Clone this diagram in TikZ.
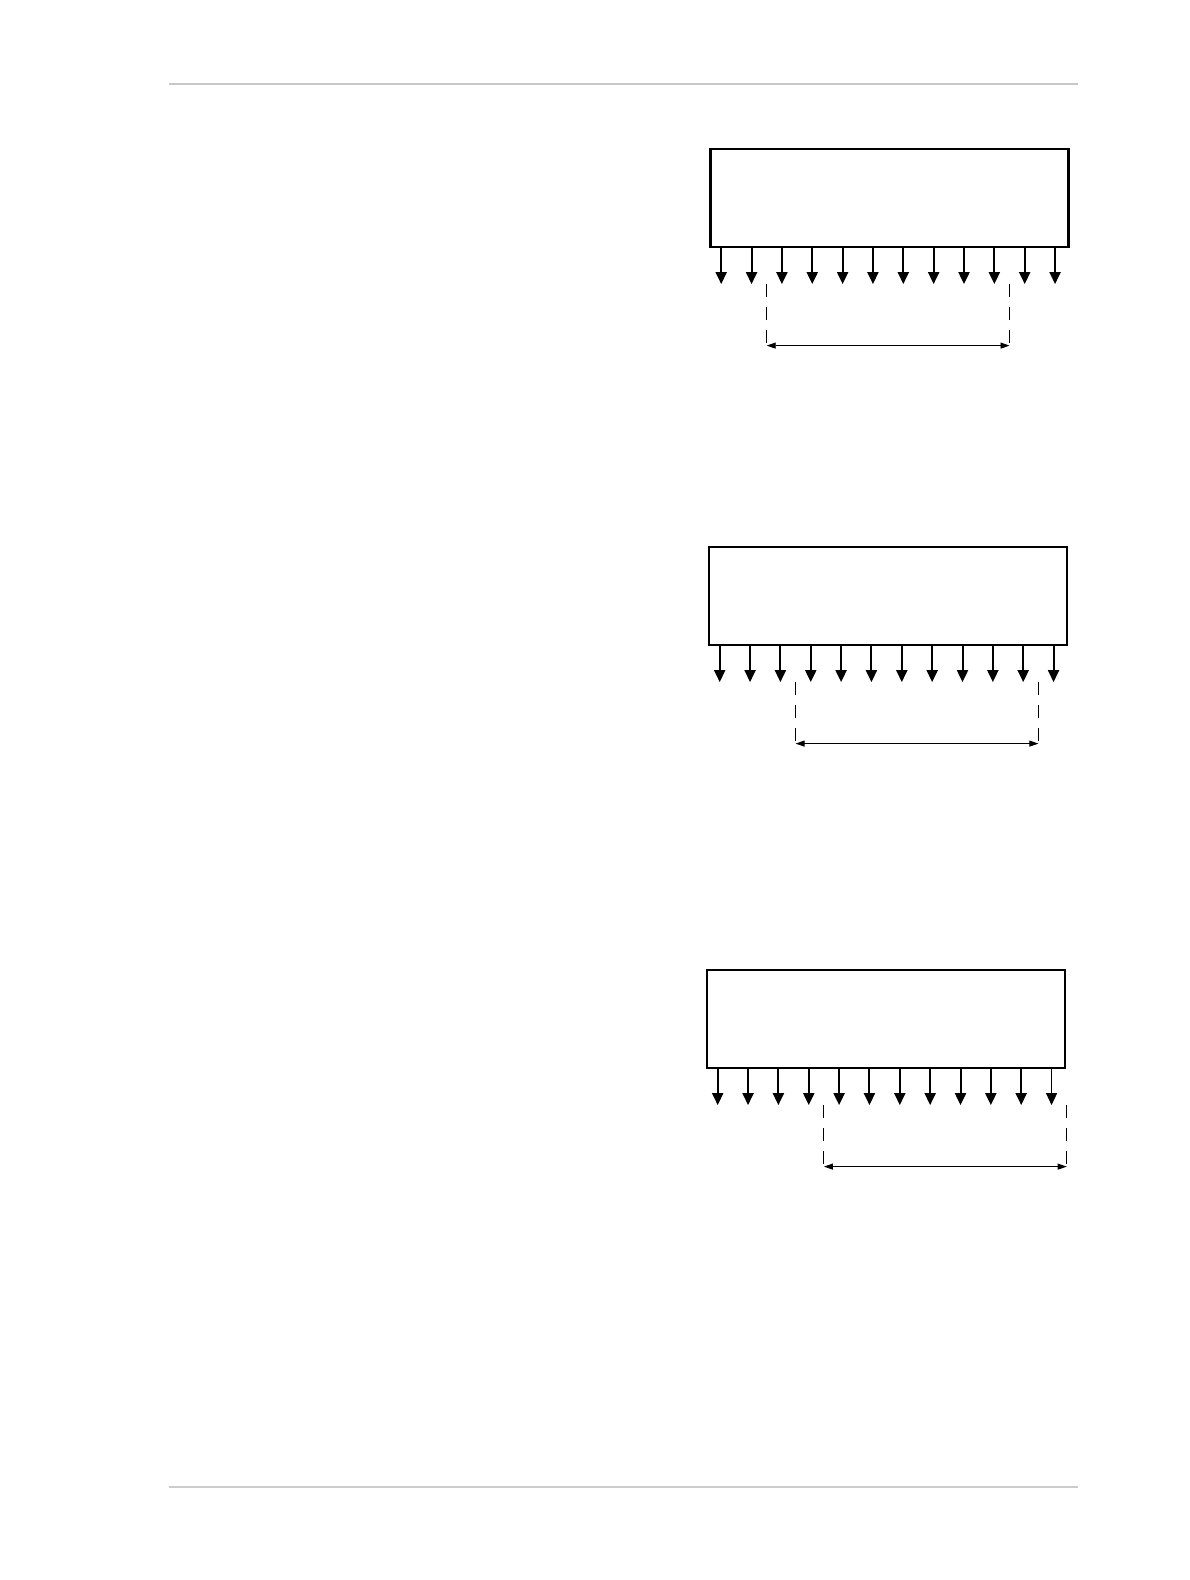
\documentclass[tikz,border=0pt]{standalone}
\usetikzlibrary{arrows.meta,calc}
\begin{document}
\begin{tikzpicture}[x=1pt,y=-1pt,
  blockbox/.style={draw,line width=2.2pt,rectangle,inner sep=0pt,minimum width=358pt,minimum height=98pt},
  pinarrow/.style={line width=2pt,-{Triangle[length=12pt,width=11pt]}},
  thinpin/.style={line width=1.2pt,-{Triangle[length=12pt,width=11pt]}},
  guideline/.style={line width=1pt,dash pattern=on 13pt off 10pt},
  dimarrow/.style={line width=0.9pt,{Triangle[length=9pt,width=6pt]}-{Triangle[length=9pt,width=6pt]}},
  rule/.style={line width=2pt,draw=black!22},
  thinrule/.style={line width=1.5pt,draw=black!20}]
\useasboundingbox (0,0) rectangle (1190,1580);
% header and footer rules
\coordinate (hl) at (169,84);
\coordinate (hr) at (1078,84);
\coordinate (fl) at (169,1487);
\coordinate (fr) at (1078,1487);
\draw[rule] (hl) -- (hr);
\draw[thinrule] (fl) -- (fr);
% boxes
\node[blockbox] (box1) at (889.5,198) {};
\node[blockbox] (box2) at (888,596) {};
\node[blockbox] (box3) at (886,1019) {};
% pins box1 and box2
\foreach \b in {1,2}{
  \foreach \i in {0,...,11}{
    \coordinate (t\b-\i) at ($(box\b.south west)+(11.8+30.35*\i,36)$);
    \draw[pinarrow] (t\b-\i |- box\b.south) -- (t\b-\i);
  }
}
% pins box3
\foreach \i in {0,...,10}{
  \coordinate (t3-\i) at ($(box3.south west)+(11.8+30.35*\i,36)$);
  \draw[pinarrow] (t3-\i |- box3.south) -- (t3-\i);
}
\coordinate (t3-11) at ($(box3.south west)+(11.8+30.35*11,36)$);
\draw[thinpin] (t3-11 |- box3.south) -- (t3-11);
% guides and dimensions
\foreach \b/\l/\r in {1/1.5/9.5,2/2.5/10.5,3/3.5/11.5}{
  \coordinate (g\b la) at ($(box\b.south west)+(11.8+30.35*\l,36)$);
  \coordinate (g\b lb) at ($(box\b.south west)+(11.8+30.35*\l,100)$);
  \coordinate (g\b ra) at ($(box\b.south west)+(11.8+30.35*\r,36)$);
  \coordinate (g\b rb) at ($(box\b.south west)+(11.8+30.35*\r,100)$);
  \coordinate (d\b l) at ($(box\b.south west)+(11.8+30.35*\l,97.5)$);
  \coordinate (d\b r) at ($(box\b.south west)+(11.8+30.35*\r,97.5)$);
  \draw[guideline] (g\b la) -- (g\b lb);
  \draw[guideline] (g\b ra) -- (g\b rb);
  \draw[dimarrow] (d\b l) -- (d\b r);
}
\end{tikzpicture}
\end{document}
